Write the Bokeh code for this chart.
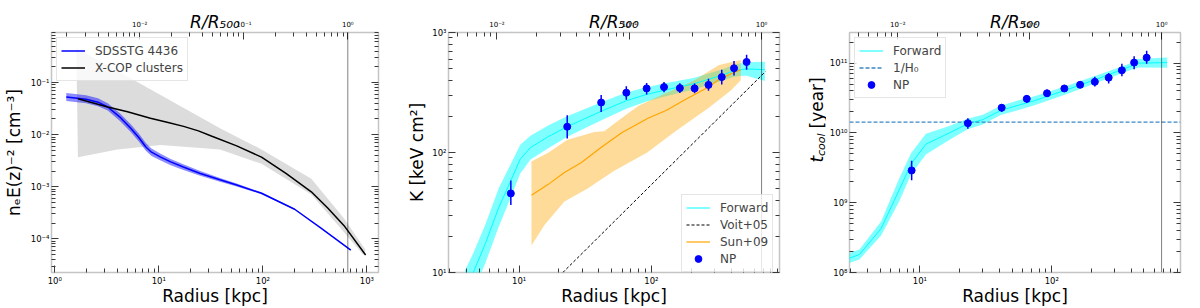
import math
from bokeh.plotting import figure
from bokeh.models import (Range1d, LogAxis, LogScale, FixedTicker, CustomJSTickFormatter,
                          Label, Span, Legend, LegendItem)
from bokeh.layouts import row
from bokeh.embed import file_html
from bokeh.resources import INLINE

FONT = "DejaVu Sans"

# ---------------- Panel 1 : electron density ----------------
sds_r = [1.29, 2.0, 2.6, 3.23, 4.2, 5.37, 6.45, 7.5, 8.5, 10.4, 13, 17.2, 25, 38.7, 56, 97, 202, 362, 700]
sds_ne = [0.053, 0.048, 0.042, 0.034, 0.022, 0.0133, 0.0087, 0.0058, 0.0046, 0.0037, 0.0030, 0.0024,
          0.0018, 0.00136, 0.00108, 0.00075, 0.00037, 0.00016, 6.1e-5]
sds_ne_lo = [0.044, 0.040, 0.035, 0.029, 0.0185, 0.0112, 0.0073, 0.0049, 0.0039, 0.0032, 0.0026, 0.0021,
             0.00162, 0.00125, 0.00101, 0.00072, 0.000362, 0.000158, 6.0e-5]
sds_ne_hi = [0.063, 0.057, 0.050, 0.040, 0.026, 0.0158, 0.0104, 0.0069, 0.0054, 0.0043, 0.0034, 0.0027,
             0.0020, 0.00148, 0.00116, 0.00078, 0.000378, 0.000162, 6.2e-5]

xcop_r = [1.67, 3.23, 5.0, 8.3, 12, 17.3, 24, 32.4, 56, 97, 168, 292, 420, 603, 972]
xcop_ne = [0.0487, 0.034, 0.0274, 0.0206, 0.0173, 0.0144, 0.0118, 0.0093, 0.0061, 0.0037, 0.00178,
           0.00080, 0.00039, 0.000179, 4.9e-5]
xcop_up_r = [1.61, 8.7, 38.7, 97, 292, 598, 972]
xcop_up = [0.458, 0.070, 0.0133, 0.0052, 0.00142, 0.00025, 6.1e-5]
xcop_lo_r = [1.67, 4.0, 10.4, 38.7, 97, 292, 603, 925]
xcop_lo = [0.0037, 0.0052, 0.0063, 0.0052, 0.00275, 0.00071, 0.000134, 4.9e-5]

# ---------------- Panel 2 : entropy ----------------
fwdK_r = [3.9, 4.5, 5.56, 7.0, 8.58, 10.2, 12.2, 16.7, 23.3, 42.3, 64.6, 92, 124.5, 212, 340, 420, 515, 720]
fwdK = [7.2, 10, 17.4, 34.6, 57, 88, 110, 136, 165, 222, 270, 305, 330, 375, 440, 480, 497, 490]
fwdK_lo = [4.98, 6.92, 12.0, 23.9, 41.3, 66.8, 87.4, 109, 136, 187, 231, 266, 291, 336, 394, 428, 438, 395]
fwdK_hi = [10.4, 14.45, 25.1, 50.0, 78.7, 116, 138, 169, 201, 264, 316, 350, 375, 419, 491, 539, 564, 570]

sun_r = [12.4, 16.5, 22, 29.4, 41.6, 60, 95, 129, 182, 264, 324, 408, 473]
sun_K = [44, 54, 68, 82, 110, 147, 194, 224, 278, 346, 405, 458, 489]
sun_up_r = [12.4, 16.7, 23, 37, 44, 60, 80, 115, 205, 324, 473]
sun_up = [84, 100, 127, 148, 150, 195, 245, 296, 392, 535, 589]
sun_lo_r = [12.4, 15.6, 22, 33, 52, 93, 152, 270, 400, 473]
sun_lo = [16.8, 25, 39, 50, 70, 100, 150, 235, 330, 400]

voit_r = [21.4, 728]
voit_K = [10, 473]

np_r = [8.66, 23.1, 41.7, 64.6, 92, 124.5, 164, 212, 270, 340, 421, 524]
np_K = [45.6, 164, 261, 315, 342, 351, 344, 342, 366, 425, 504, 568]
np_K_lo = [36.6, 131, 217, 275, 305, 317, 313, 311, 327, 369, 439, 490]
np_K_hi = [58.4, 204, 302, 357, 380, 387, 378, 375, 412, 489, 578, 653]

# ---------------- Panel 3 : cooling time ----------------
fwdT_r = [2.9, 3.48, 5.08, 6.98, 8.57, 11.1, 16.7, 23, 30, 41, 56, 74, 132, 235, 396, 450, 750]
fwdT = [1.6e8, 1.81e8, 4.26e8, 1.54e9, 3.6e9, 6.9e9, 1.0e10, 1.35e10, 1.55e10, 2.1e10, 2.5e10, 2.9e10,
        4.2e10, 6.2e10, 9.0e10, 1.0e11, 1.02e11]
fwdT_lo = [1.37e8, 1.54e8, 3.4e8, 1.05e9, 2.55e9, 4.9e9, 7.9e9, 1.13e10, 1.32e10, 1.8e10, 2.13e10, 2.5e10,
           3.65e10, 5.5e10, 8.0e10, 8.7e10, 8.6e10]
fwdT_hi = [1.9e8, 2.13e8, 5.4e8, 2.25e9, 5.1e9, 9.7e9, 1.26e10, 1.6e10, 1.82e10, 2.45e10, 2.93e10, 3.35e10,
           4.8e10, 7.0e10, 1.0e11, 1.15e11, 1.21e11]

np_t = [2.9e9, 1.38e10, 2.3e10, 3.08e10, 3.7e10, 4.34e10, 4.9e10, 5.4e10, 6.2e10, 7.9e10, 1.02e11, 1.2e11]
np_t_lo = [2.1e9, 1.15e10, 2.0e10, 2.68e10, 3.31e10, 3.95e10, 4.43e10, 4.62e10, 5.1e10, 6.5e10, 8.2e10, 9.8e10]
np_t_hi = [4.0e9, 1.62e10, 2.57e10, 3.5e10, 4.15e10, 4.72e10, 5.5e10, 6.38e10, 7.25e10, 9.8e10, 1.26e11, 1.5e11]

hubble_time = [1.43e10]

r500_p1 = 655
r500_p23 = 680

# axis limits
p1_x = (0.930, 1292)
p1_y = (2.26e-5, 0.913)
p2_x = (2.926, 929)
p2_y = (10, 1000)
p3_x = (2.926, 946)
p3_y = (1e8, 2.75e11)

H = 308

EXP_JS = r"""
const e = Math.round(Math.log10(tick));
const m = {"-": "\u207b", "0": "\u2070", "1": "\u00b9", "2": "\u00b2", "3": "\u00b3",
           "4": "\u2074", "5": "\u2075", "6": "\u2076", "7": "\u2077", "8": "\u2078", "9": "\u2079"};
let s = "";
for (const c of String(e)) { s += m[c]; }
return "10" + s;
"""


def decades(lo, hi):
    major = [10.0 ** d for d in range(lo, hi + 1)]
    minor = [k * 10.0 ** d for d in range(lo, hi + 1) for k in range(2, 10)]
    return major, minor


def make_panel(width, min_left, min_right, xr, yr, r500, xdec, ydec, tdec, ylabel=None, ystand=6):
    p = figure(width=width, height=H, x_axis_type="log", y_axis_type="log",
               x_range=Range1d(*xr), y_range=Range1d(*yr), output_backend="svg",
               toolbar_location=None, min_border_left=min_left, min_border_right=min_right,
               min_border_top=32, min_border_bottom=30)
    p.extra_x_ranges = {"r500": Range1d(xr[0] / r500, xr[1] / r500)}
    p.extra_x_scales = {"r500": LogScale()}
    top = LogAxis(x_range_name="r500")
    p.add_layout(top, "above")
    right = LogAxis()
    p.add_layout(right, "right")
    p.xgrid.visible = False
    p.ygrid.visible = False
    p.outline_line_color = "#c4c4c4"
    p.outline_line_width = 1.5
    p.background_fill_color = "white"
    p.border_fill_color = "white"

    xmaj, xmin = decades(*xdec)
    ymaj, ymin = decades(*ydec)
    tmaj, tmin = decades(*tdec)
    bottom = p.below[0]
    left = p.left[0]
    bottom.ticker = FixedTicker(ticks=xmaj, minor_ticks=xmin)
    left.ticker = FixedTicker(ticks=ymaj, minor_ticks=ymin)
    right.ticker = FixedTicker(ticks=ymaj, minor_ticks=ymin)
    top.ticker = FixedTicker(ticks=tmaj, minor_ticks=tmin)
    for ax in [bottom, left, top]:
        ax.formatter = CustomJSTickFormatter(code=EXP_JS)
    right.formatter = CustomJSTickFormatter(code='return "";')
    for ax in [bottom, left, top, right]:
        ax.axis_line_color = None
        ax.major_tick_in = 7
        ax.major_tick_out = 0
        ax.minor_tick_in = 4
        ax.minor_tick_out = 0
        ax.major_tick_line_color = "#3a3a3a"
        ax.minor_tick_line_color = "#3a3a3a"
        ax.major_label_text_font = FONT
        ax.major_label_text_color = "black"
        ax.major_label_text_font_size = "8.5px"
        ax.major_label_standoff = 3
    top.major_label_text_font_size = "7px"
    top.major_label_standoff = 4
    left.major_label_standoff = 2

    bottom.axis_label = "Radius [kpc]"
    bottom.axis_label_text_font = FONT
    bottom.axis_label_text_font_size = "17px"
    bottom.axis_label_text_font_style = "normal"
    bottom.axis_label_text_color = "black"
    bottom.axis_label_standoff = -3

    top.axis_label = "R/R\u2085\u2080\u2080"
    top.axis_label_text_font = FONT
    top.axis_label_text_font_size = "17px"
    top.axis_label_text_font_style = "italic"
    top.axis_label_text_color = "black"
    top.axis_label_standoff = -14

    if ylabel is not None:
        left.axis_label = ylabel
        left.axis_label_text_font = FONT
        left.axis_label_text_font_size = "17px"
        left.axis_label_text_font_style = "normal"
        left.axis_label_text_color = "black"
        left.axis_label_standoff = ystand

    p.add_layout(Span(location=r500, dimension="height", line_color="black",
                      line_dash="1 1", line_width=1))
    return p


def label_strip(width, labels):
    f = figure(width=width, height=H, x_range=Range1d(0, width), y_range=Range1d(0, H),
               output_backend="svg", toolbar_location=None,
               x_axis_location=None, y_axis_location=None,
               min_border_left=0, min_border_right=0, min_border_top=0, min_border_bottom=0)
    f.outline_line_color = None
    f.background_fill_color = "white"
    f.border_fill_color = "white"
    for g in f.grid:
        g.visible = False
    for (text, x, y, size, style, align) in labels:
        f.add_layout(Label(x=x, y=y, x_units="screen", y_units="screen", text=text,
                           angle=math.pi / 2, text_font=FONT, text_font_size=size,
                           text_font_style=style, text_align=align,
                           text_baseline="alphabetic", text_color="black"))
    return f


def style_legend(leg):
    leg.label_text_font = FONT
    leg.label_text_font_size = "12px"
    leg.glyph_width = 24
    leg.glyph_height = 17
    leg.label_height = 17
    leg.label_standoff = 10
    leg.padding = 4
    leg.spacing = 0
    leg.margin = 5
    leg.border_line_color = "#cccccc"
    leg.border_line_width = 1
    leg.background_fill_alpha = 0.8


# ---------------- panel 1 ----------------
p1 = make_panel(400, 48, 22, p1_x, p1_y, r500_p1, (0, 3), (-5, 0), (-3, 0),
                ylabel="n\u2091E(z)\u207b\u00b2 [cm\u207b\u00b3]", ystand=4)
p1.patch(xcop_up_r + xcop_lo_r[::-1], xcop_up + xcop_lo[::-1], fill_color="#d3d3d3", fill_alpha=0.8,
         line_color=None)
p1.varea(x=sds_r, y1=sds_ne_lo, y2=sds_ne_hi, fill_color="blue", fill_alpha=0.45)
l_sds = p1.line(sds_r, sds_ne, line_color="blue", line_width=1.5)
l_xcop = p1.line(xcop_r, xcop_ne, line_color="black", line_width=1.5)
leg1 = Legend(items=[LegendItem(label="SDSSTG 4436", renderers=[l_sds]),
                     LegendItem(label="X-COP clusters", renderers=[l_xcop])],
              location="top_left")
style_legend(leg1)
p1.add_layout(leg1)

# ---------------- panel 2 ----------------
p2 = make_panel(400, 48, 21, p2_x, p2_y, r500_p23, (0, 3), (1, 3), (-3, 0),
                ylabel="K [keV cm\u00b2]", ystand=2)
p2.varea(x=fwdK_r, y1=fwdK_lo, y2=fwdK_hi, fill_color="cyan", fill_alpha=0.5)
p2.patch(sun_up_r + sun_lo_r[::-1], sun_up + sun_lo[::-1], fill_color="orange", fill_alpha=0.4,
         line_color=None)
l_fwd2 = p2.line(fwdK_r, fwdK, line_color="cyan", line_width=1)
l_sun = p2.line(sun_r, sun_K, line_color="orange", line_width=1.2)
l_voit = p2.line(voit_r, voit_K, line_color="black", line_width=1, line_dash="3 2")
p2.segment(x0=np_r, y0=np_K_lo, x1=np_r, y1=np_K_hi, line_color="blue", line_width=1.5)
s_np2 = p2.scatter(np_r, np_K, size=7, color="blue")
leg2 = Legend(items=[LegendItem(label="Forward", renderers=[l_fwd2]),
                     LegendItem(label="Voit+05", renderers=[l_voit]),
                     LegendItem(label="Sun+09", renderers=[l_sun]),
                     LegendItem(label="NP", renderers=[s_np2])],
              location=(233, 0))
style_legend(leg2)
p2.add_layout(leg2)

# ---------------- panel 3 ----------------
p3 = make_panel(366, 22, 12, p3_x, p3_y, r500_p23, (0, 3), (8, 11), (-3, 0))
p3.varea(x=fwdT_r, y1=fwdT_lo, y2=fwdT_hi, fill_color="cyan", fill_alpha=0.5)
l_fwd3 = p3.line(fwdT_r, fwdT, line_color="cyan", line_width=1)
l_h0 = p3.line([p3_x[0], p3_x[1]], [hubble_time[0], hubble_time[0]], line_color="#3b87c4",
               line_width=1.3, line_dash="4 2")
p3.segment(x0=np_r, y0=np_t_lo, x1=np_r, y1=np_t_hi, line_color="blue", line_width=1.5)
s_np3 = p3.scatter(np_r, np_t, size=7, color="blue")
leg3 = Legend(items=[LegendItem(label="Forward", renderers=[l_fwd3]),
                     LegendItem(label="1/H\u2080", renderers=[l_h0]),
                     LegendItem(label="NP", renderers=[s_np3])],
              location="top_left")
style_legend(leg3)
p3.add_layout(leg3)

# t_cool [year] label strip (sub-scripted, so built from pieces)
t0 = 110
s3 = label_strip(26, [("t", 16.7, t0, "17px", "italic", "left"),
                      ("cool", 20.5, t0 + 6.5, "11px", "italic", "left"),
                      ("[year]", 16.5, t0 + 34, "17px", "normal", "left")])

layout = row(p1, p2, s3, p3)
with open("out.html", "w", encoding="utf-8") as f:
    f.write(file_html(layout, INLINE))
